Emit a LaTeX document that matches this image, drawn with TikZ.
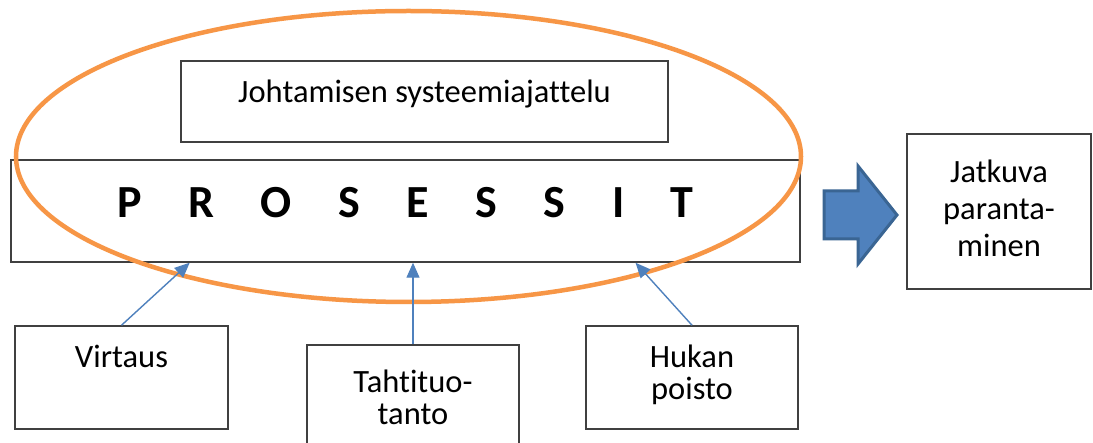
\documentclass[tikz,border=0pt]{standalone}
\usepackage{fontspec}
\setmainfont{Carlito}[Ligatures={NoCommon,TeX}]
\usetikzlibrary{arrows.meta,calc}
\definecolor{boxline}{HTML}{404040}
\definecolor{orng}{HTML}{F79646}
\definecolor{blu}{HTML}{4F81BD}
\definecolor{bludark}{HTML}{3A6593}
\newcommand{\rtxt}[3]{\fontsize{32.5}{#2}\selectfont\raisebox{#1}[0pt][0pt]{\begin{tabular}[t]{@{}c@{}}#3\end{tabular}}}
\newcommand{\lsp}{\hspace{46.5pt}}
\begin{document}
\begin{tikzpicture}[x=1pt,y=-1pt,
  box/.style={draw=boxline, line width=1.5pt, inner sep=0pt, fill=white},
  feeder/.style={draw=blu, line width=1.4pt, -{Triangle[length=15pt,width=13pt]}}]
\useasboundingbox (0,0) rectangle (1093,443);
\fill[white] (0,0) rectangle (1093,443);
% boxes
\node[box, minimum width=487pt, minimum height=81pt] (john) at (424.5,101.5)
  {\rtxt{-1.5pt}{32pt}{Johtamisen systeemiajattelu}};
\node[box, minimum width=789pt, minimum height=102pt] (pros) at (405.5,211)
  {\fontsize{46}{46}\selectfont\bfseries\raisebox{-7pt}[0pt][0pt]{P\lsp R\lsp O\lsp S\lsp E\lsp S\lsp S\lsp I\lsp T}};
\node[box, minimum width=184pt, minimum height=155pt] (jat) at (999,211.5)
  {\rtxt{28.5pt}{37pt}{Jatkuva\\paranta-\\minen}};
\node[box, minimum width=213pt, minimum height=103pt] (virt) at (121.5,377.5)
  {\rtxt{9.5pt}{32pt}{Virtaus}};
\node[box, minimum width=212pt, minimum height=115pt] (tahti) at (413,402.5)
  {\rtxt{9.5pt}{32pt}{Tahtituo-\\tanto}};
\node[box, minimum width=212pt, minimum height=103pt] (hukan) at (692,377.5)
  {\rtxt{9.5pt}{32pt}{Hukan\\poisto}};
% ellipse
\draw[orng, line width=4.5pt] (408.5,156.5) ellipse [x radius=392.5pt, y radius=145.5pt];
% block arrow
\draw[bludark, fill=blu, line width=3pt, line join=miter]
  (824,191) -- (858,191) -- (858,166) -- (897,215) -- (858,264) -- (858,239) -- (824,239) -- cycle;
% feeder arrows
\draw[feeder] (virt.north) -- ($(pros.south west)!0.227!(pros.south east)$);
\draw[feeder] (tahti.north) -- (tahti.north |- pros.south);
\draw[feeder] (hukan.north) -- ($(pros.south west)!0.791!(pros.south east)$);
\end{tikzpicture}
\end{document}
